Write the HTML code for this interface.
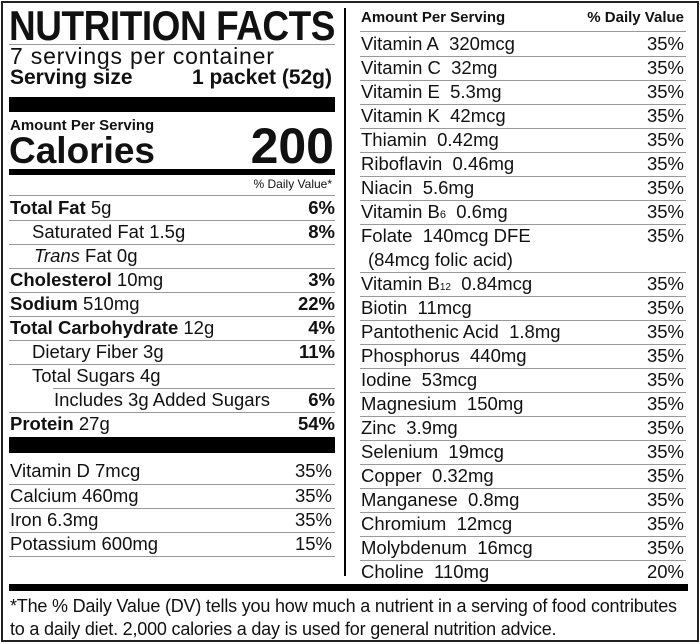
<!DOCTYPE html>
<html><head><meta charset="utf-8"><style>
*{margin:0;padding:0;box-sizing:border-box}
body{width:700px;height:644px;background:#fff;position:relative;overflow:hidden;font-family:"Liberation Sans",sans-serif;color:#111}
.a{position:absolute;white-space:nowrap}
.hl{position:absolute;height:1px;background:#999}
.bk{position:absolute;background:#000}
.row{position:absolute;height:24px;font-size:18.5px;line-height:24px;white-space:nowrap}
.row .r{position:absolute;right:0;top:0}
b{font-weight:bold}
</style></head><body>
<div class="a" style="left:1px;top:1px;width:698px;height:641px;border:2px solid #222"></div>
<div class="bk" style="left:344px;top:8px;width:2px;height:568px"></div>

<div class="a" style="left:9px;top:5px;font-size:42px;font-weight:bold;letter-spacing:-0.5px;line-height:42px;transform:scaleX(0.88);transform-origin:0 0">NUTRITION FACTS</div>
<div class="hl" style="left:9px;top:44px;width:326px"></div>
<div class="a" style="left:10px;top:44px;font-size:23px;line-height:24px;letter-spacing:0.8px">7 servings per container</div>
<div class="a" style="left:10px;top:67px;font-size:21px;font-weight:bold;line-height:22px">Serving size</div>
<div class="a" style="right:368px;top:67px;font-size:21px;font-weight:bold;line-height:22px">1 packet (52g)</div>
<div class="bk" style="left:9px;top:97px;width:326px;height:15px"></div>
<div class="a" style="left:10px;top:117px;font-size:15px;font-weight:bold">Amount Per Serving</div>
<div class="a" style="left:9px;top:132px;font-size:37px;font-weight:bold;line-height:38px">Calories</div>
<div class="a" style="right:366px;top:120px;font-size:50px;font-weight:bold;line-height:52px">200</div>
<div class="bk" style="left:9px;top:169px;width:326px;height:6px"></div>
<div class="a" style="right:368px;top:177px;font-size:12px">% Daily Value*</div>
<div class="hl" style="left:9px;top:195px;width:326px"></div>

<div class="row" style="left:10px;top:196px;width:325px"><b>Total Fat</b> 5g<span class="r"><b>6%</b></span></div>
<div class="hl" style="left:9px;top:220px;width:326px"></div>
<div class="row" style="left:32px;top:220px;width:303px">Saturated Fat 1.5g<span class="r"><b>8%</b></span></div>
<div class="hl" style="left:9px;top:244px;width:326px"></div>
<div class="row" style="left:34px;top:244px;width:301px"><i>Trans</i> Fat 0g</div>
<div class="hl" style="left:9px;top:268px;width:326px"></div>
<div class="row" style="left:10px;top:268px;width:325px"><b>Cholesterol</b> 10mg<span class="r"><b>3%</b></span></div>
<div class="hl" style="left:9px;top:292px;width:326px"></div>
<div class="row" style="left:10px;top:292px;width:325px"><b>Sodium</b> 510mg<span class="r"><b>22%</b></span></div>
<div class="hl" style="left:9px;top:316px;width:326px"></div>
<div class="row" style="left:10px;top:316px;width:325px"><b>Total Carbohydrate</b> 12g<span class="r"><b>4%</b></span></div>
<div class="hl" style="left:9px;top:340px;width:326px"></div>
<div class="row" style="left:32px;top:340px;width:303px">Dietary Fiber 3g<span class="r"><b>11%</b></span></div>
<div class="hl" style="left:9px;top:364px;width:326px"></div>
<div class="row" style="left:32px;top:364px;width:303px">Total Sugars 4g</div>
<div class="hl" style="left:53px;top:388px;width:282px"></div>
<div class="row" style="left:54px;top:388px;width:281px">Includes 3g Added Sugars<span class="r"><b>6%</b></span></div>
<div class="hl" style="left:9px;top:412px;width:326px"></div>
<div class="row" style="left:10px;top:412px;width:325px"><b>Protein</b> 27g<span class="r"><b>54%</b></span></div>
<div class="bk" style="left:9px;top:437px;width:326px;height:16px"></div>

<div class="row" style="left:10px;top:459px;width:322px">Vitamin D 7mcg<span class="r">35%</span></div>
<div class="hl" style="left:9px;top:484px;width:326px"></div>
<div class="row" style="left:10px;top:484px;width:322px">Calcium 460mg<span class="r">35%</span></div>
<div class="hl" style="left:9px;top:508px;width:326px"></div>
<div class="row" style="left:10px;top:508px;width:322px">Iron 6.3mg<span class="r">35%</span></div>
<div class="hl" style="left:9px;top:532px;width:326px"></div>
<div class="row" style="left:10px;top:532px;width:322px">Potassium 600mg<span class="r">15%</span></div>
<div class="hl" style="left:9px;top:556px;width:326px"></div>

<div class="a" style="left:361px;top:9px;font-size:15px;font-weight:bold">Amount Per Serving</div>
<div class="a" style="right:16px;top:9px;font-size:15px;font-weight:bold">% Daily Value</div>
<div class="hl" style="left:360px;top:31px;width:326px"></div>

<div class="row" style="left:361px;top:32px;width:323px">Vitamin A&nbsp; 320mcg<span class="r">35%</span></div>
<div class="hl" style="left:360px;top:56px;width:326px"></div>
<div class="row" style="left:361px;top:56px;width:323px">Vitamin C&nbsp; 32mg<span class="r">35%</span></div>
<div class="hl" style="left:360px;top:80px;width:326px"></div>
<div class="row" style="left:361px;top:80px;width:323px">Vitamin E&nbsp; 5.3mg<span class="r">35%</span></div>
<div class="hl" style="left:360px;top:104px;width:326px"></div>
<div class="row" style="left:361px;top:104px;width:323px">Vitamin K&nbsp; 42mcg<span class="r">35%</span></div>
<div class="hl" style="left:360px;top:128px;width:326px"></div>
<div class="row" style="left:361px;top:128px;width:323px">Thiamin&nbsp; 0.42mg<span class="r">35%</span></div>
<div class="hl" style="left:360px;top:152px;width:326px"></div>
<div class="row" style="left:361px;top:152px;width:323px">Riboflavin&nbsp; 0.46mg<span class="r">35%</span></div>
<div class="hl" style="left:360px;top:176px;width:326px"></div>
<div class="row" style="left:361px;top:176px;width:323px">Niacin&nbsp; 5.6mg<span class="r">35%</span></div>
<div class="hl" style="left:360px;top:200px;width:326px"></div>
<div class="row" style="left:361px;top:200px;width:323px">Vitamin B<span style="font-size:11px">6</span>&nbsp; 0.6mg<span class="r">35%</span></div>
<div class="hl" style="left:360px;top:224px;width:326px"></div>
<div class="row" style="left:361px;top:224px;width:323px">Folate&nbsp; 140mcg DFE<span class="r">35%</span></div>
<div class="row" style="left:368px;top:248px;width:316px">(84mcg folic acid)</div>
<div class="hl" style="left:360px;top:272px;width:326px"></div>
<div class="row" style="left:361px;top:272px;width:323px">Vitamin B<span style="font-size:10px">12</span>&nbsp; 0.84mcg<span class="r">35%</span></div>
<div class="hl" style="left:360px;top:296px;width:326px"></div>
<div class="row" style="left:361px;top:296px;width:323px">Biotin&nbsp; 11mcg<span class="r">35%</span></div>
<div class="hl" style="left:360px;top:320px;width:326px"></div>
<div class="row" style="left:361px;top:320px;width:323px">Pantothenic Acid&nbsp; 1.8mg<span class="r">35%</span></div>
<div class="hl" style="left:360px;top:344px;width:326px"></div>
<div class="row" style="left:361px;top:344px;width:323px">Phosphorus&nbsp; 440mg<span class="r">35%</span></div>
<div class="hl" style="left:360px;top:368px;width:326px"></div>
<div class="row" style="left:361px;top:368px;width:323px">Iodine&nbsp; 53mcg<span class="r">35%</span></div>
<div class="hl" style="left:360px;top:392px;width:326px"></div>
<div class="row" style="left:361px;top:392px;width:323px">Magnesium&nbsp; 150mg<span class="r">35%</span></div>
<div class="hl" style="left:360px;top:416px;width:326px"></div>
<div class="row" style="left:361px;top:416px;width:323px">Zinc&nbsp; 3.9mg<span class="r">35%</span></div>
<div class="hl" style="left:360px;top:440px;width:326px"></div>
<div class="row" style="left:361px;top:440px;width:323px">Selenium&nbsp; 19mcg<span class="r">35%</span></div>
<div class="hl" style="left:360px;top:464px;width:326px"></div>
<div class="row" style="left:361px;top:464px;width:323px">Copper&nbsp; 0.32mg<span class="r">35%</span></div>
<div class="hl" style="left:360px;top:488px;width:326px"></div>
<div class="row" style="left:361px;top:488px;width:323px">Manganese&nbsp; 0.8mg<span class="r">35%</span></div>
<div class="hl" style="left:360px;top:512px;width:326px"></div>
<div class="row" style="left:361px;top:512px;width:323px">Chromium&nbsp; 12mcg<span class="r">35%</span></div>
<div class="hl" style="left:360px;top:536px;width:326px"></div>
<div class="row" style="left:361px;top:536px;width:323px">Molybdenum&nbsp; 16mcg<span class="r">35%</span></div>
<div class="hl" style="left:360px;top:560px;width:326px"></div>
<div class="row" style="left:361px;top:560px;width:323px">Choline&nbsp; 110mg<span class="r">20%</span></div>

<div class="bk" style="left:9px;top:584px;width:679px;height:7px"></div>
<div class="a" style="left:10px;top:595px;font-size:18px;line-height:23px;letter-spacing:-0.2px">*The % Daily Value (DV) tells you how much a nutrient in a serving of food contributes<br>to a daily diet. 2,000 calories a day is used for general nutrition advice.</div>
</body></html>
